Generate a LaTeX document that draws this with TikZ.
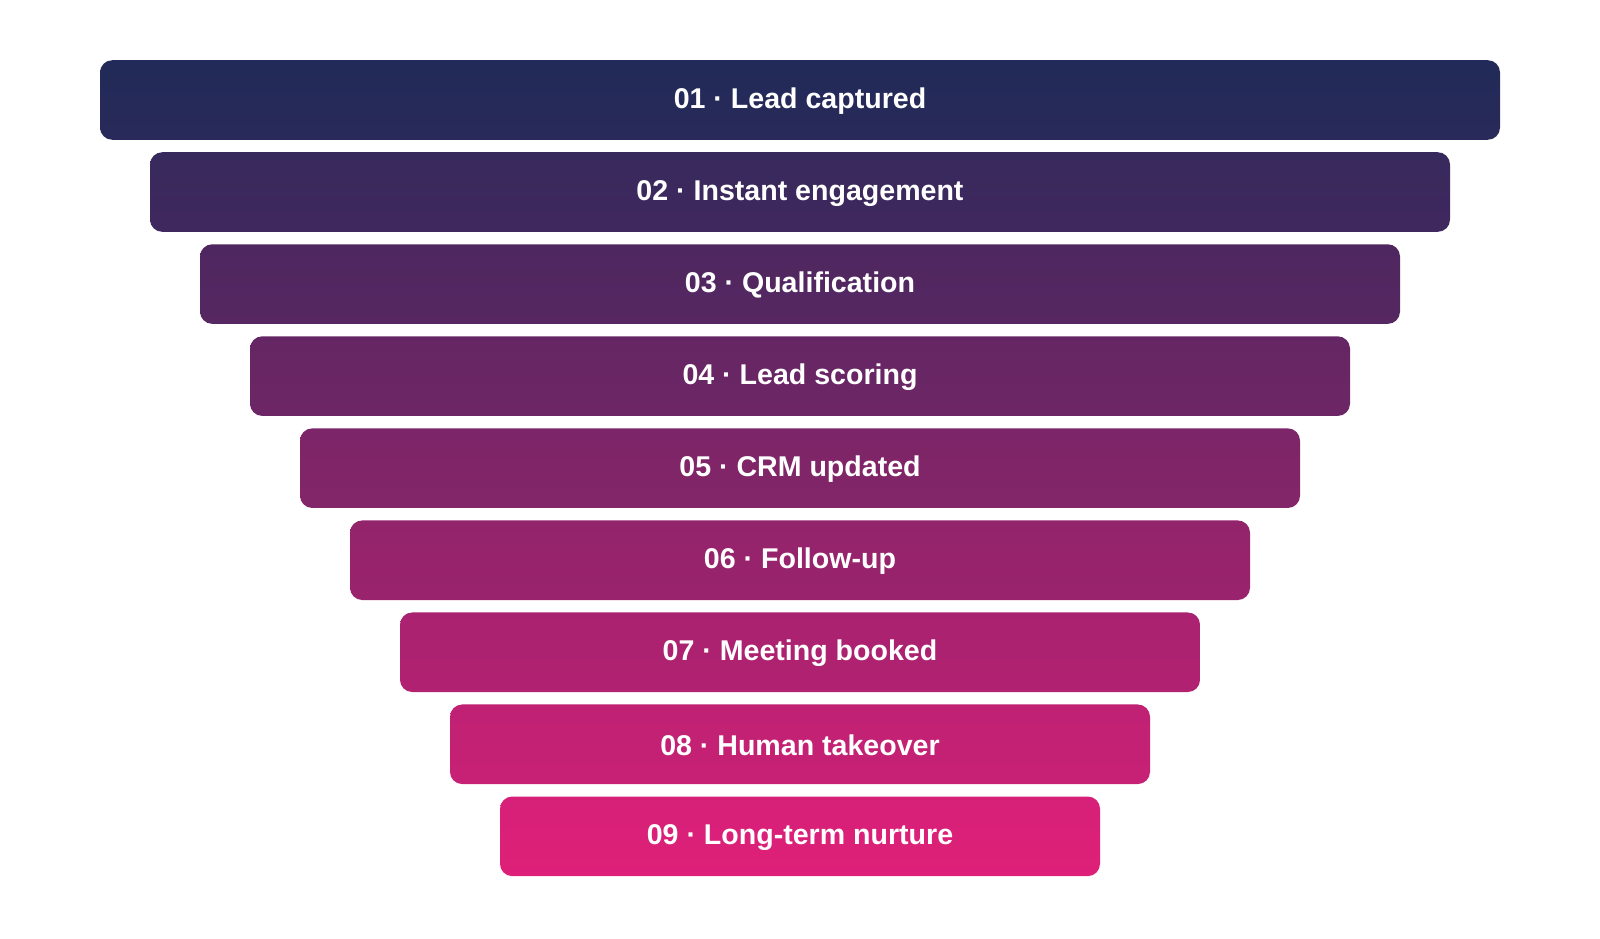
\documentclass[tikz,border=0pt]{standalone}
\usepackage{fontspec}
\setmainfont{Liberation Sans}
\definecolor{cA}{HTML}{212A58}
\definecolor{cB}{HTML}{E61F7A}
\begin{document}
\begin{tikzpicture}[x=1pt,y=-1pt,
  bar/.style={rounded corners=12pt,inner sep=0pt},
  lbl/.style={text=white,font=\fontsize{28}{32}\selectfont\bfseries}]
\useasboundingbox (0,0) rectangle (1568,920);
\foreach \i/\t in {0/01 · Lead captured,1/02 · Instant engagement,2/03 · Qualification,3/04 · Lead scoring,4/05 · CRM updated,5/06 · Follow-up,6/07 · Meeting booked,7/08 · Human takeover,8/09 · Long-term nurture}{
  \pgfmathsetmacro{\pa}{100-\i*11.5}
  \pgfmathsetmacro{\pb}{100-\i*11.5-4}
  \pgfmathsetmacro{\xl}{98+49*\i}
  \pgfmathsetmacro{\xr}{1470-49*\i}
  \pgfmathsetmacro{\yt}{59+90.2*\i}
  \colorlet{ct}{cA!\pa!cB}
  \colorlet{cb}{cA!\pb!cB}
  \shade[bar,top color=ct,bottom color=cb] (\xl,\yt) rectangle (\xr,\yt+78);
  \node[lbl] (n\i) at (784,\yt+40) {\t};
}
\end{tikzpicture}
\end{document}
